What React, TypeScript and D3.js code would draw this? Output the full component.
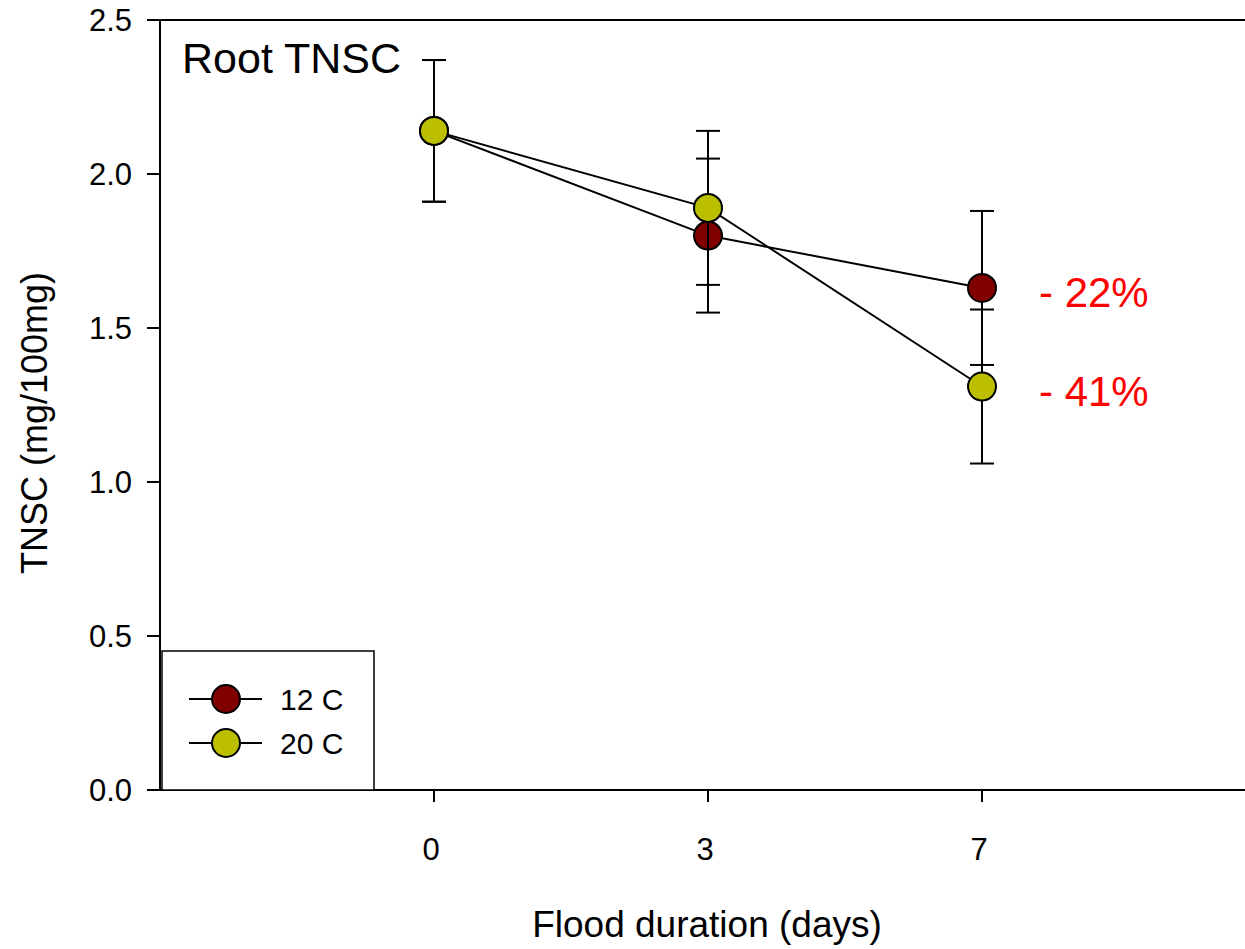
import { scaleLinear, scalePoint, line } from 'd3';

// flood duration categories (days)
const days = ['0', '3', '7'];
// root TNSC means and standard errors (mg/100mg)
const mean12C = [2.14, 1.80, 1.63];
const err12C = [0.23, 0.25, 0.25];
const mean20C = [2.14, 1.89, 1.31];
const err20C = [0.23, 0.25, 0.25];
const yTicks = [0, 0.5, 1.0, 1.5, 2.0, 2.5];
const seriesNames = ['12 C', '20 C'];
const changeLabels = ['- 22%', '- 41%'];

const W = 1245;
const H = 949;
const left = 160, right = 1256, top = 20, bottom = 790;
const font = 'Arial, "Liberation Sans", Helvetica, sans-serif';
const colors = ['#800000', '#bbbf00'];

export default function App() {
  const x = scalePoint<string>().domain(days).range([left, right]).padding(1);
  const y = scaleLinear().domain([0, 2.5]).range([bottom, top]);

  const series = [
    { name: seriesNames[0], mean: mean12C, err: err12C, color: colors[0] },
    { name: seriesNames[1], mean: mean20C, err: err20C, color: colors[1] },
  ];

  const path = line<number>()
    .x((_, i) => x(days[i]) as number)
    .y(d => y(d));

  const lastX = x(days[days.length - 1]) as number;

  return (
    <svg width={W} height={H} style={{ position: 'absolute', left: 0, top: 0, background: '#fff' }}
      fontFamily={font}>
      {/* frame: top line and axes */}
      <line x1={left - 13} x2={right} y1={top} y2={top} stroke="#000" strokeWidth={2} />
      <line x1={left - 13} x2={right} y1={bottom} y2={bottom} stroke="#000" strokeWidth={2} />
      <line x1={left} x2={left} y1={top} y2={bottom} stroke="#000" strokeWidth={2} />

      {yTicks.map(t => (
        <g key={t}>
          <line x1={left - 13} x2={left} y1={y(t)} y2={y(t)} stroke="#000" strokeWidth={2} />
          <text x={132} y={y(t) + 11} fontSize={31} textAnchor="end">{t.toFixed(1)}</text>
        </g>
      ))}

      {days.map(d => (
        <g key={d}>
          <line x1={x(d)} x2={x(d)} y1={bottom} y2={bottom + 12} stroke="#000" strokeWidth={2} />
          <text x={(x(d) as number) - 3} y={bottom + 70} fontSize={31} textAnchor="middle">{d}</text>
        </g>
      ))}

      <text x={707} y={937} fontSize={37} textAnchor="middle">Flood duration (days)</text>
      <text transform={`translate(47,${(top + bottom) / 2 + 18}) rotate(-90)`} fontSize={36}
        textAnchor="middle">TNSC (mg/100mg)</text>

      <text x={182} y={73} fontSize={43}>Root TNSC</text>

      {series.map(s => (
        <g key={s.name}>
          <path d={path(s.mean) ?? ''} fill="none" stroke="#000" strokeWidth={2} />
          {s.mean.map((m, i) => {
            const cx = x(days[i]) as number;
            return (
              <g key={i}>
                <line x1={cx} x2={cx} y1={y(m + s.err[i])} y2={y(m - s.err[i])} stroke="#000" strokeWidth={2} />
                <line x1={cx - 12} x2={cx + 12} y1={y(m + s.err[i])} y2={y(m + s.err[i])} stroke="#000" strokeWidth={2} />
                <line x1={cx - 12} x2={cx + 12} y1={y(m - s.err[i])} y2={y(m - s.err[i])} stroke="#000" strokeWidth={2} />
              </g>
            );
          })}
          {s.mean.map((m, i) => (
            <circle key={'c' + i} cx={x(days[i])} cy={y(m)} r={14} fill={s.color} stroke="#000" strokeWidth={2} />
          ))}
        </g>
      ))}

      {series.map((s, i) => (
        <text key={'p' + i} x={lastX + 57} y={y(s.mean[s.mean.length - 1]) + 19} fontSize={42}
          fill="#ff0000">{changeLabels[i]}</text>
      ))}

      {/* legend */}
      <rect x={162} y={651} width={212} height={139} fill="#fff" stroke="#000" strokeWidth={1.5} />
      {series.map((s, i) => (
        <g key={'l' + i} transform={`translate(0,${699 + i * 44})`}>
          <line x1={189} x2={262} y1={0} y2={0} stroke="#000" strokeWidth={2} />
          <circle cx={226} cy={0} r={14} fill={s.color} stroke="#000" strokeWidth={2} />
          <text x={280} y={11} fontSize={30}>{s.name}</text>
        </g>
      ))}
    </svg>
  );
}
